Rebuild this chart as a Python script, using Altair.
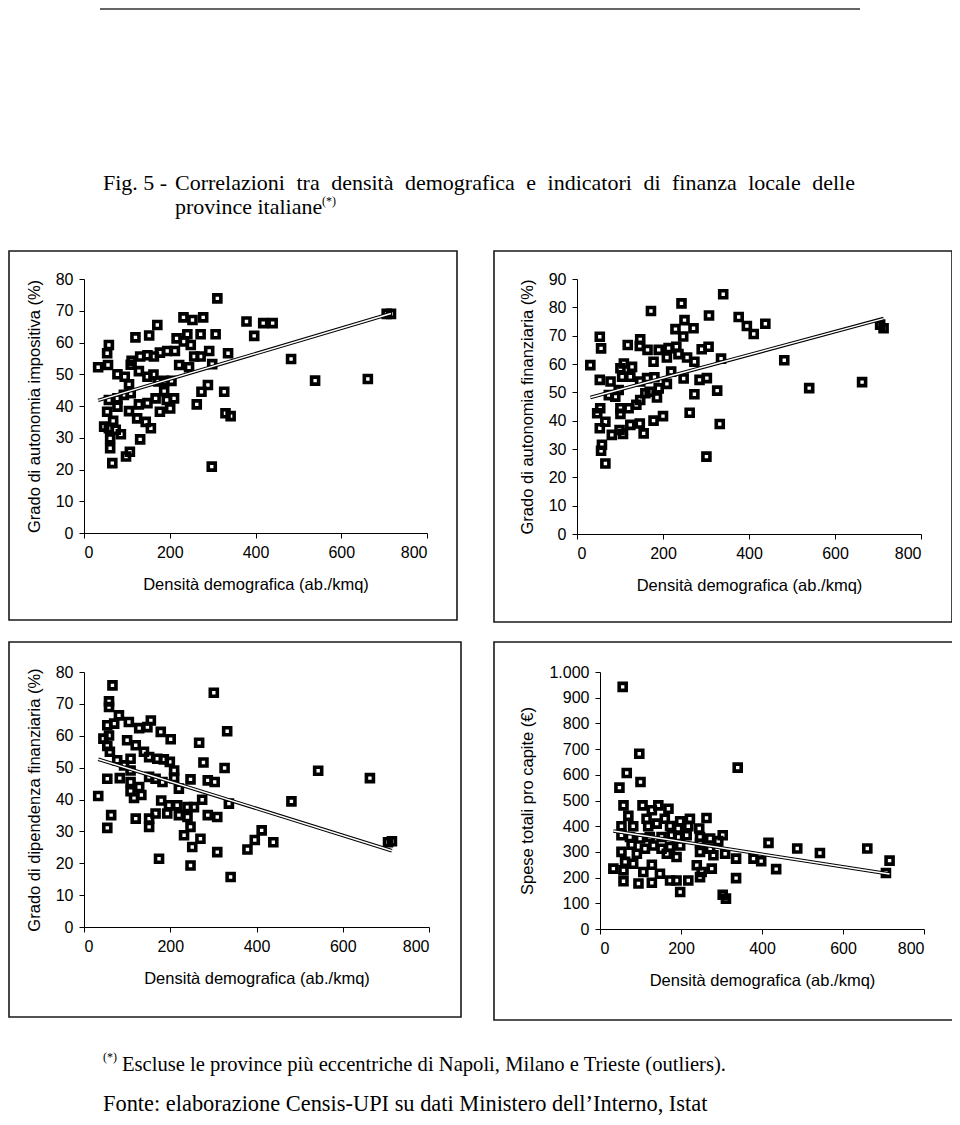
import altair as alt
import pandas as pd

# ---------------- data ----------------
# Panel 1: Grado di autonomia impositiva (%)
p1_x = [311, 232, 253, 278, 171, 152, 120, 379, 418, 440, 397, 307, 272, 241, 216, 233, 249, 58, 54, 33,
        56, 177, 194, 212, 163, 148, 131, 111, 109, 257, 272, 292, 336, 299, 222, 245, 78, 95, 128, 148,
        162, 187, 204, 173, 105, 187, 109, 58, 78, 93, 193, 210, 167, 148, 128, 78, 54, 105, 177, 201,
        274, 289, 327, 263, 330, 342, 124, 144, 156, 68, 47, 58, 74, 86, 61, 131, 61, 107, 98, 66,
        298, 483, 539, 662, 706, 716]
p1_y = [73.9, 67.9, 67.1, 67.9, 65.5, 62.2, 61.6, 66.6, 66.1, 66.1, 62.1, 62.6, 62.6, 62.6, 61.3, 60.3, 59.2, 59.2, 56.6, 52.2,
        52.9, 56.8, 57.3, 57.3, 55.6, 56.0, 55.6, 54.2, 53.0, 55.6, 55.6, 57.3, 56.6, 53.2, 52.9, 52.2, 50.0, 49.2, 51.0, 49.2,
        49.9, 47.9, 47.9, 47.7, 46.8, 44.7, 44.0, 41.9, 42.4, 43.5, 41.9, 42.4, 42.4, 40.9, 40.5, 39.8, 38.2, 38.4, 38.2, 39.2,
        44.5, 46.6, 44.5, 40.5, 37.7, 36.8, 36.1, 35.0, 33.0, 35.3, 33.5, 33.0, 32.5, 31.1, 29.8, 29.5, 26.7, 25.6, 24.1, 22.0,
        20.9, 54.8, 48.0, 48.5, 69.0, 69.0]

# Panel 2: Grado di autonomia finanziaria (%)
p2_x = [340, 243, 172, 307, 376, 395, 411, 438, 250, 229, 271, 247, 53, 56, 118, 147, 146, 164, 190, 213,
        231, 236, 209, 256, 273, 290, 306, 335, 178, 31, 109, 128, 101, 105, 53, 78, 124, 147, 163, 180,
        219, 248, 285, 302, 209, 97, 190, 273, 326, 74, 89, 169, 186, 159, 54, 147, 138, 120, 101, 47,
        101, 262, 53, 66, 99, 81, 124, 146, 155, 178, 200, 332, 107, 58, 56, 66, 301, 482, 540, 663,
        705, 713]
p2_y = [84.6, 81.4, 78.7, 77.1, 76.6, 73.4, 70.6, 74.2, 75.5, 72.3, 72.6, 69.7, 69.6, 65.5, 66.7, 68.7, 66.4, 65.0, 65.0, 65.6,
        66.1, 63.5, 62.3, 62.3, 60.8, 65.2, 66.1, 61.9, 60.8, 59.6, 60.2, 59.0, 58.5, 55.5, 54.4, 53.8, 55.5, 53.8, 55.0, 55.3,
        57.3, 54.9, 54.4, 55.0, 53.0, 50.8, 51.4, 49.3, 50.6, 49.0, 48.5, 50.2, 48.2, 49.7, 44.4, 47.3, 45.6, 44.4, 44.4, 42.6,
        42.4, 42.8, 37.3, 39.6, 36.7, 35.0, 38.5, 39.0, 35.5, 40.0, 41.6, 38.8, 35.3, 31.5, 29.4, 24.9, 27.3, 61.3, 51.5, 53.6,
        73.9, 72.6]

# Panel 3: Grado di dipendenza finanziaria (%)
p3_x = [66, 301, 58, 58, 81, 54, 70, 104, 128, 155, 147, 178, 201, 332, 45, 58, 54, 100, 120, 60,
        267, 139, 151, 77, 108, 170, 185, 199, 209, 93, 108, 277, 326, 54, 83, 108, 151, 166, 182, 209,
        247, 287, 303, 128, 220, 108, 116, 133, 33, 179, 274, 336, 197, 216, 240, 255, 166, 193, 220, 240,
        287, 309, 63, 120, 151, 151, 54, 247, 232, 270, 251, 412, 396, 379, 309, 174, 247, 340, 481, 543,
        663, 705, 714, 439]
p3_y = [75.8, 73.5, 70.8, 69.0, 66.4, 63.3, 63.8, 64.3, 62.4, 64.8, 62.7, 61.2, 58.9, 61.4, 59.1, 60.1, 56.8, 58.6, 57.0, 55.0,
        57.8, 55.0, 53.3, 52.3, 52.8, 52.8, 52.6, 51.8, 49.1, 50.7, 49.1, 51.6, 49.9, 46.5, 46.7, 45.5, 47.1, 46.5, 45.5, 46.7,
        46.3, 46.0, 45.5, 43.9, 43.4, 42.6, 40.5, 41.4, 41.1, 39.7, 39.9, 38.7, 38.2, 38.2, 37.6, 37.6, 35.6, 35.6, 35.1, 34.5,
        35.1, 34.5, 35.1, 34.0, 34.0, 31.4, 31.1, 31.4, 28.8, 27.7, 25.1, 30.3, 27.3, 24.3, 23.5, 21.4, 19.3, 15.7, 39.4, 49.0,
        46.7, 26.6, 26.9, 26.6]

# Panel 4: Spese totali pro capite (EUR)
p4_x = [56, 97, 66, 100, 48, 340, 58, 105, 144, 169, 128, 70, 160, 198, 222, 263, 115, 53, 82, 119,
        140, 173, 193, 218, 245, 53, 74, 99, 123, 152, 177, 193, 214, 247, 272, 303, 292, 78, 111, 132,
        152, 173, 198, 247, 272, 416, 53, 91, 165, 189, 247, 280, 309, 336, 379, 398, 62, 82, 128, 239,
        33, 58, 107, 148, 251, 276, 435, 58, 95, 128, 189, 218, 247, 336, 173, 198, 303, 311, 487, 543,
        660, 715, 706]
p4_y = [942, 682, 607, 572, 550, 628, 481, 481, 481, 468, 462, 440, 429, 419, 429, 432, 429, 400, 400, 400,
        410, 401, 391, 400, 391, 365, 358, 352, 358, 358, 365, 358, 365, 358, 352, 365, 342, 328, 312, 325,
        312, 319, 325, 332, 312, 335, 300, 293, 293, 280, 300, 287, 293, 274, 274, 264, 261, 254, 250, 248,
        235, 228, 222, 215, 222, 235, 233, 186, 177, 180, 189, 189, 202, 198, 189, 144, 133, 118, 313, 296,
        313, 266, 218]

x_ticks = [0, 200, 400, 600, 800]
x_title = "Densità demografica (ab./kmq)"
y_titles = ["Grado di autonomia impositiva (%)", "Grado di autonomia finanziaria (%)",
            "Grado di dipendenza finanziaria (%)", "Spese totali pro capite (€)"]

title_words = ["Correlazioni", "tra", "densità", "demografica", "e", "indicatori",
               "di", "finanza", "locale", "delle"]

# ---------------- layout ----------------
OFF = 8           # page margin
W, H = 944, 1109  # drawing area

AX = dict(grid=False, domainColor="black", tickColor="black", labelColor="black",
          titleColor="black", labelFont="Liberation Sans", titleFont="Liberation Sans",
          labelFontSize=16, titleFontSize=16.5, titleFontWeight="normal",
          tickSize=5, domainWidth=1, tickWidth=1)


def panel(xs, ys, xr, yr, ymax, ystep, ytitle, ylabelexpr=None):
    x0, x1 = xr[0] - OFF, xr[1] - OFF
    yb, yt = yr[0] - OFF, yr[1] - OFF
    df = pd.DataFrame({"x": xs, "y": ys})
    xaxis = alt.Axis(orient="bottom", offset=yb - H, values=x_ticks, title=x_title,
                     labelPadding=6, titlePadding=16, **AX)
    yargs = dict(orient="left", offset=-x0, values=list(range(0, ymax + 1, ystep)),
                 title=ytitle, labelPadding=6, titlePadding=13, **AX)
    if ylabelexpr:
        yargs["labelExpr"] = ylabelexpr
    X = alt.X("x:Q", scale=alt.Scale(domain=[0, 800], range=[x0, x1], nice=False, zero=False), axis=xaxis)
    Y = alt.Y("y:Q", scale=alt.Scale(domain=[0, ymax], range=[yb, yt], nice=False, zero=False),
              axis=alt.Axis(**yargs))
    base = alt.Chart(df)
    pts = base.mark_point(shape="square", filled=False, color="black", strokeWidth=3.6,
                          size=49, opacity=1).encode(x=X, y=Y)
    reg = base.transform_regression("x", "y")
    l1 = reg.mark_line(color="black", strokeWidth=3.6).encode(x=X, y=Y)
    l2 = reg.mark_line(color="white", strokeWidth=1.5).encode(x=X, y=Y)
    return alt.layer(pts, l1, l2)


def box(x0, y0, x1, y1):
    return alt.Chart(alt.Data(values=[{}])).mark_rect(
        fillOpacity=0, stroke="#1a1a1a", strokeWidth=1.6
    ).encode(x=alt.value(max(x0 - OFF, 1)), x2=alt.value(x1 - OFF),
             y=alt.value(y0 - OFF), y2=alt.value(y1 - OFF))


def txt(s, x, y, size, font="Liberation Serif"):
    return alt.Chart(alt.Data(values=[{}])).mark_text(
        text=s, font=font, fontSize=size, align="left", baseline="alphabetic", color="black"
    ).encode(x=alt.value(x - OFF), y=alt.value(y - OFF))


panels = [
    panel(p1_x, p1_y, (84, 427), (533, 279), 80, 10, y_titles[0]),
    panel(p2_x, p2_y, (577, 921), (534, 279), 90, 10, y_titles[1]),
    panel(p3_x, p3_y, (84, 429), (927, 672), 80, 10, y_titles[2]),
    panel(p4_x, p4_y, (600, 924), (929, 672), 1000, 100, y_titles[3],
          ylabelexpr="replace(format(datum.value, ','), ',', '.')"),
]

boxes = [
    box(2, 251, 457, 620),
    box(494, 251, 952, 622),
    box(2, 642, 461, 1017),
    box(494, 642, 955, 1020),
]

top_rule = alt.Chart(alt.Data(values=[{}])).mark_rule(color="#333", strokeWidth=1.5).encode(
    x=alt.value(100 - OFF), x2=alt.value(860 - OFF), y=alt.value(1))

# justified first title line: spread words between x=175 and x=855
# (approximate Times-metric glyph widths, per 1000 em)
GW = {"a": 444, "b": 500, "c": 444, "d": 500, "e": 444, "f": 333, "g": 500, "i": 278,
      "l": 278, "m": 778, "n": 500, "o": 500, "r": 333, "s": 389, "t": 278, "z": 444,
      "à": 444, "C": 667}
TS = 22
widths = [sum(GW.get(c, 500) for c in w) * TS / 1000 for w in title_words]
gap = (855 - 175 - sum(widths)) / (len(title_words) - 1)
word_x, cur = [], 175.0
for w in widths:
    word_x.append(cur)
    cur += w + gap

texts = [txt("Fig. 5 -", 103, 190, TS)]
texts += [txt(w, x, 190, TS) for w, x in zip(title_words, word_x)]
texts += [
    txt("province italiane", 175, 214, TS),
    txt("(*)", 322, 205, 12),
    txt("(*)", 103, 1061, 12),
    txt("Escluse le province più eccentriche di Napoli, Milano e Trieste (outliers).", 122, 1071, 20.6),
    txt("Fonte: elaborazione Censis-UPI su dati Ministero dell’Interno, Istat", 103, 1111, 22.4),
]

chart = alt.layer(*panels, *boxes, top_rule, *texts).resolve_scale(
    x="independent", y="independent"
).properties(
    width=W, height=H, autosize=alt.AutoSizeParams(type="none"), padding=0
).configure_view(strokeWidth=0)

chart.save("out.html", embed_options={"renderer": "svg", "actions": False})
